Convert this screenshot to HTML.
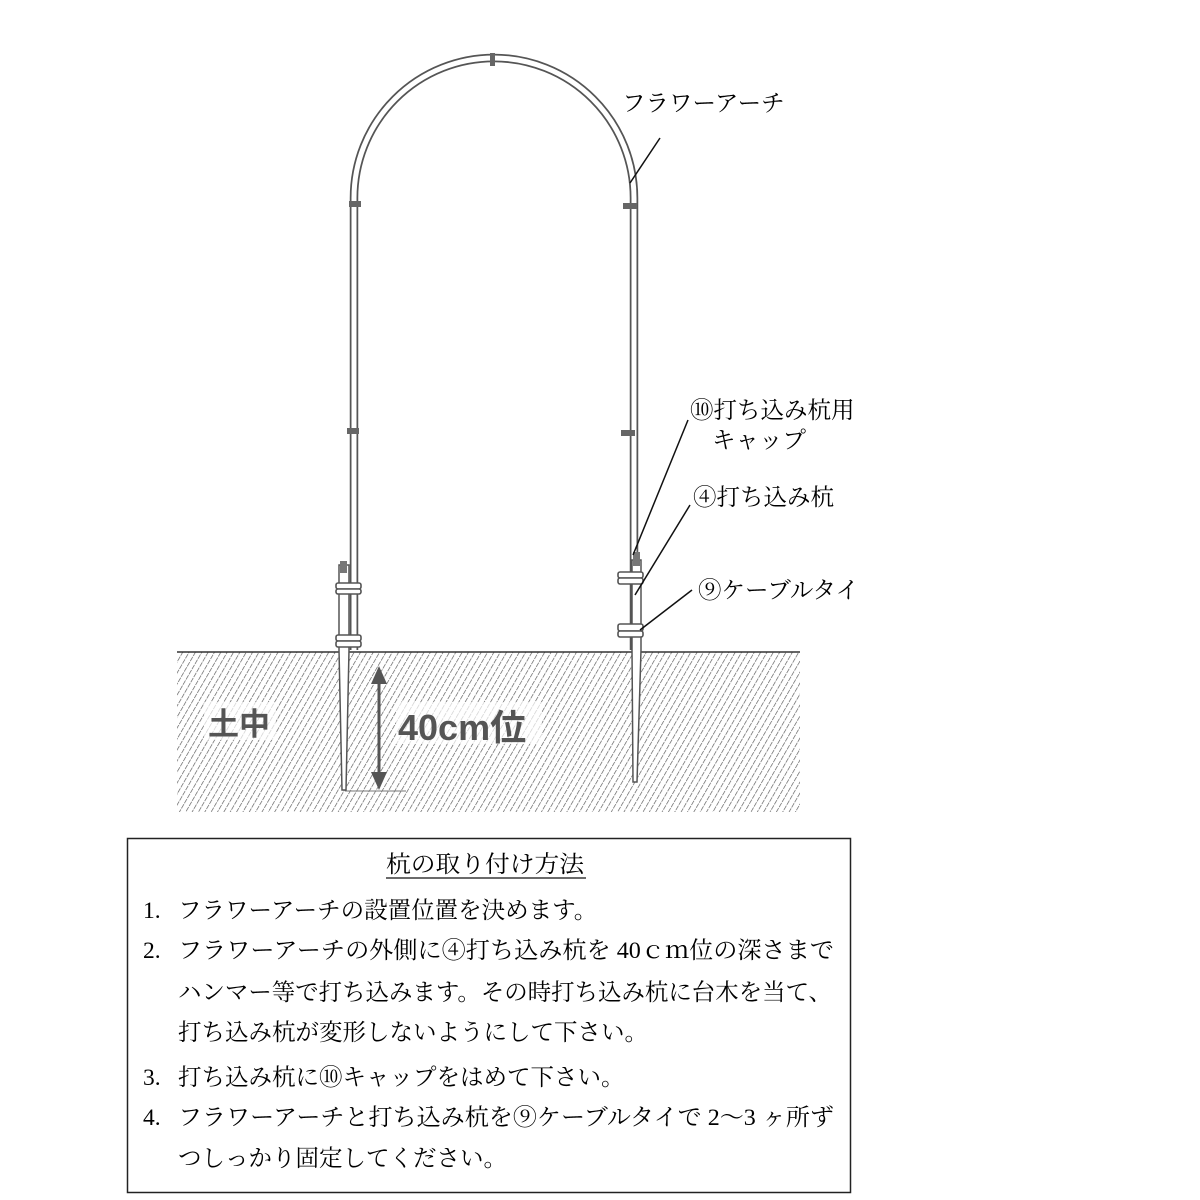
<!DOCTYPE html>
<html><head><meta charset="utf-8"><style>
html,body{margin:0;padding:0;background:#fff;}
svg{display:block;}
.t{font-family:"Liberation Serif","Noto Serif CJK JP",serif;font-size:23.5px;fill:#000;}
</style></head><body>
<svg width="1200" height="1200" viewBox="0 0 1200 1200" xmlns="http://www.w3.org/2000/svg">
<defs>
<pattern id="h" width="5.5" height="6" patternUnits="userSpaceOnUse" patternTransform="rotate(30)">
<line x1="0" y1="0" x2="0" y2="6" stroke="#555" stroke-width="1.3" stroke-dasharray="3.5 1"/>
</pattern>
</defs>
<rect x="177" y="652" width="623" height="160" fill="url(#h)"/>
<line x1="177" y1="652" x2="800" y2="652" stroke="#333" stroke-width="1.5"/>
<rect x="204" y="702" width="72" height="38" fill="#fff" opacity="0.7"/>
<rect x="396" y="702" width="146" height="42" fill="#fff" opacity="0.7"/>
<text x="208" y="735" font-family="Liberation Sans,'Noto Sans CJK JP',sans-serif" font-weight="bold" font-size="31" fill="#555">土中</text>
<text x="398" y="740" font-family="Liberation Sans,'Noto Sans CJK JP',sans-serif" font-weight="bold" font-size="36" fill="#555">40cm位</text>
<line x1="379" y1="680" x2="379" y2="780" stroke="#555" stroke-width="3"/>
<polygon points="379,666 371,684 387,684" fill="#555"/>
<polygon points="379,790 371,772 387,772" fill="#555"/>
<line x1="345" y1="791" x2="406" y2="791" stroke="#777" stroke-width="1"/>
<path d="M354,650 L354,198 A140,140 0 0 1 634,198 L634,650" fill="none" stroke="#555" stroke-width="8.5"/>
<path d="M354,650 L354,198 A140,140 0 0 1 634,198 L634,650" fill="none" stroke="#fff" stroke-width="5"/>
<rect x="490" y="53" width="5" height="13" fill="#666"/>
<rect x="349" y="201" width="12" height="6" fill="#666"/>
<rect x="623" y="203" width="14" height="6" fill="#666"/>
<rect x="347" y="428" width="12" height="6" fill="#666"/>
<rect x="621" y="430" width="14" height="6" fill="#666"/>
<path d="M339,565 L349,565 L349,650 L346,790 L342,790 L339,650 Z" fill="#fff" stroke="#555" stroke-width="1.5"/>
<rect x="340" y="561" width="7" height="12" fill="#777"/>
<g fill="#fff" stroke="#555" stroke-width="1.6">
<rect x="336" y="583" width="25" height="6" rx="2"/><rect x="336" y="589" width="25" height="5" rx="2"/>
<rect x="336" y="635" width="25" height="6" rx="2"/><rect x="336" y="641" width="25" height="6" rx="2"/>
</g>
<path d="M632,560 L641,560 L641,650 L637,782 L633,782 L632,650 Z" fill="#fff" stroke="#555" stroke-width="1.5"/>
<rect x="633" y="552" width="7" height="14" fill="#777"/>
<g fill="#fff" stroke="#555" stroke-width="1.6">
<rect x="618" y="572" width="25" height="6" rx="2"/><rect x="618" y="578" width="25" height="6" rx="2"/>
<rect x="618" y="624" width="25" height="7" rx="2"/><rect x="618" y="631" width="25" height="6" rx="2"/>
</g>
<g stroke="#111" stroke-width="1.5">
<line x1="630" y1="183" x2="660" y2="138"/>
<line x1="633" y1="555" x2="688" y2="420"/>
<line x1="635" y1="595" x2="690" y2="505"/>
<line x1="640" y1="630" x2="692" y2="590"/>
</g>
<g class="t">
<text x="622" y="111">フラワーアーチ</text>
<text x="690" y="418">⑩打ち込み杭用</text>
<text x="712" y="448">キャップ</text>
<text x="693" y="505">④打ち込み杭</text>
<text x="698" y="598">⑨ケーブルタイ</text>
</g>
<rect x="127.5" y="838.5" width="723" height="354" fill="none" stroke="#222" stroke-width="1.5"/>
<g class="t">
<text x="386" y="872" textLength="198" lengthAdjust="spacingAndGlyphs">杭の取り付け方法</text>
<line x1="386" y1="878" x2="586" y2="878" stroke="#111" stroke-width="1.2"/>
<text x="143" y="918">1.</text><text x="178" y="918">フラワーアーチの設置位置を決めます。</text>
<text x="143" y="958">2.</text><text x="178" y="958" textLength="656" lengthAdjust="spacingAndGlyphs">フラワーアーチの外側に④打ち込み杭を 40ｃｍ位の深さまで</text>
<text x="178" y="1000" textLength="654" lengthAdjust="spacingAndGlyphs">ハンマー等で打ち込みます。その時打ち込み杭に台木を当て、</text>
<text x="178" y="1040">打ち込み杭が変形しないようにして下さい。</text>
<text x="143" y="1085">3.</text><text x="178" y="1085">打ち込み杭に⑩キャップをはめて下さい。</text>
<text x="143" y="1125">4.</text><text x="178" y="1125" textLength="656" lengthAdjust="spacingAndGlyphs">フラワーアーチと打ち込み杭を⑨ケーブルタイで 2～3 ヶ所ず</text>
<text x="178" y="1166">つしっかり固定してください。</text>
</g>
</svg>
</body></html>
